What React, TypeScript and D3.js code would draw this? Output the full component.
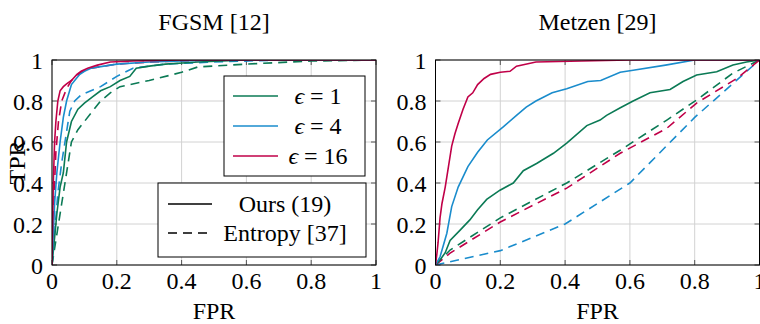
import * as d3 from 'd3'

type Pt = [number, number]

// FGSM [12] panel: [FPR, TPR]
const fgsmOursEps1: Pt[] = [[0, 0], [0.006, 0.1], [0.015, 0.25], [0.025, 0.38], [0.035, 0.45], [0.045, 0.6], [0.06, 0.7], [0.08, 0.76], [0.1, 0.79], [0.125, 0.82], [0.15, 0.85], [0.18, 0.87], [0.21, 0.9], [0.24, 0.92], [0.26, 0.96], [0.3, 0.97], [0.35, 0.98], [0.45, 0.99], [0.6, 1], [1, 1]]
const fgsmOursEps4: Pt[] = [[0, 0], [0.004, 0.15], [0.008, 0.3], [0.015, 0.45], [0.025, 0.6], [0.035, 0.72], [0.045, 0.8], [0.06, 0.88], [0.075, 0.91], [0.086, 0.93], [0.1, 0.945], [0.12, 0.96], [0.16, 0.97], [0.2, 0.98], [0.3, 0.99], [0.5, 1], [1, 1]]
const fgsmOursEps16: Pt[] = [[0, 0], [0.002, 0.2], [0.004, 0.4], [0.006, 0.5], [0.008, 0.6], [0.012, 0.7], [0.018, 0.8], [0.025, 0.85], [0.035, 0.87], [0.046, 0.885], [0.06, 0.9], [0.077, 0.93], [0.09, 0.945], [0.11, 0.96], [0.14, 0.975], [0.18, 0.99], [0.25, 0.995], [0.4, 1], [1, 1]]
const fgsmEntropyEps1: Pt[] = [[0, 0], [0.01, 0.1], [0.02, 0.2], [0.03, 0.3], [0.04, 0.4], [0.05, 0.5], [0.06, 0.6], [0.08, 0.66], [0.1, 0.7], [0.125, 0.75], [0.15, 0.8], [0.18, 0.84], [0.21, 0.87], [0.3, 0.9], [0.4, 0.94], [0.45, 0.966], [0.6, 0.98], [0.8, 0.995], [1, 1]]
const fgsmEntropyEps4: Pt[] = [[0, 0], [0.008, 0.15], [0.018, 0.35], [0.03, 0.5], [0.04, 0.6], [0.055, 0.75], [0.07, 0.8], [0.09, 0.83], [0.12, 0.85], [0.15, 0.87], [0.2, 0.92], [0.25, 0.96], [0.35, 0.98], [0.5, 0.99], [0.7, 1], [1, 1]]
const fgsmEntropyEps16: Pt[] = [[0, 0], [0.004, 0.2], [0.008, 0.4], [0.012, 0.55], [0.02, 0.7], [0.03, 0.8], [0.045, 0.86], [0.06, 0.9], [0.09, 0.94], [0.12, 0.96], [0.2, 0.98], [0.3, 0.99], [0.5, 1], [1, 1]]

// Metzen [29] panel
const metzenOursEps1: Pt[] = [[0, 0], [0.014, 0.025], [0.03, 0.06], [0.045, 0.12], [0.076, 0.17], [0.106, 0.22], [0.13, 0.27], [0.158, 0.32], [0.199, 0.365], [0.24, 0.4], [0.271, 0.46], [0.312, 0.495], [0.364, 0.545], [0.405, 0.595], [0.467, 0.68], [0.508, 0.707], [0.528, 0.73], [0.569, 0.766], [0.61, 0.8], [0.662, 0.84], [0.724, 0.856], [0.764, 0.895], [0.806, 0.927], [0.868, 0.943], [0.918, 0.976], [0.96, 0.99], [1, 1]]
const metzenOursEps4: Pt[] = [[0, 0], [0.014, 0.04], [0.025, 0.1], [0.035, 0.155], [0.05, 0.285], [0.07, 0.38], [0.1, 0.48], [0.13, 0.55], [0.16, 0.61], [0.21, 0.675], [0.25, 0.73], [0.28, 0.77], [0.31, 0.8], [0.36, 0.84], [0.405, 0.86], [0.47, 0.895], [0.51, 0.9], [0.57, 0.94], [0.61, 0.95], [0.71, 0.975], [0.8, 1], [1, 1]]
const metzenOursEps16: Pt[] = [[0, 0], [0.004, 0.05], [0.008, 0.11], [0.014, 0.23], [0.02, 0.3], [0.03, 0.38], [0.04, 0.48], [0.05, 0.58], [0.06, 0.64], [0.07, 0.69], [0.085, 0.76], [0.1, 0.82], [0.115, 0.84], [0.13, 0.88], [0.15, 0.91], [0.17, 0.93], [0.2, 0.94], [0.23, 0.945], [0.25, 0.97], [0.31, 0.99], [0.45, 0.995], [0.6, 1], [1, 1]]
const metzenEntropyEps1: Pt[] = [[0, 0], [0.045, 0.073], [0.2, 0.23], [0.405, 0.4], [0.57, 0.56], [0.714, 0.707], [0.806, 0.805], [0.918, 0.936], [1, 1]]
const metzenEntropyEps4: Pt[] = [[0, 0], [0.2, 0.07], [0.4, 0.2], [0.6, 0.4], [0.8, 0.72], [1, 1]]
const metzenEntropyEps16: Pt[] = [[0, 0], [0.045, 0.058], [0.2, 0.21], [0.405, 0.375], [0.57, 0.545], [0.714, 0.667], [0.806, 0.79], [0.93, 0.91], [1, 1]]

const tickValues = [0, 0.2, 0.4, 0.6, 0.8, 1]
const tickLabels = ['0', '0.2', '0.4', '0.6', '0.8', '1']
const epsLabels = ['1', '4', '16']
const methodLabels = ['Ours (19)', 'Entropy [37]']

const colors = ['#0b7a55', '#1a8ccc', '#c00048']
const txt = { fontFamily: 'Liberation Serif', fontSize: 24 }

const Panel = ({ id, left, title, ours, entropy, yLabel }) => {
  const top = 60
  const w = 324
  const h = 205
  const x = d3.scaleLinear().domain([0, 1]).range([left, left + w])
  const y = d3.scaleLinear().domain([0, 1]).range([top + h, top])
  const line = d3.line<Pt>().x((d) => x(d[0])).y((d) => y(d[1]))

  return (
    <g>
      <defs>
        <clipPath id={id}>
          <rect x={left} y={top} width={w} height={h} />
        </clipPath>
      </defs>
      {tickValues.map((t) => (
        <g key={t}>
          <line x1={x(t)} x2={x(t)} y1={top} y2={top + h} stroke="#d2d2d2" strokeWidth={1} />
          <line x1={left} x2={left + w} y1={y(t)} y2={y(t)} stroke="#d2d2d2" strokeWidth={1} />
          <line x1={x(t)} x2={x(t)} y1={top + h} y2={top + h - 5} stroke="#555" />
          <line x1={x(t)} x2={x(t)} y1={top} y2={top + 5} stroke="#555" />
          <line x1={left} x2={left + 5} y1={y(t)} y2={y(t)} stroke="#555" />
          <line x1={left + w} x2={left + w - 5} y1={y(t)} y2={y(t)} stroke="#555" />
        </g>
      ))}
      <g clipPath={`url(#${id})`}>
        {entropy.map((s, i) => (
          <path key={'e' + i} d={line(s)} fill="none" stroke={colors[i]} strokeWidth={1.6} strokeDasharray="9 6" />
        ))}
        {ours.map((s, i) => (
          <path key={'o' + i} d={line(s)} fill="none" stroke={colors[i]} strokeWidth={1.6} />
        ))}
      </g>
      <rect x={left} y={top} width={w} height={h} fill="none" stroke="#000" strokeWidth={1} />
      {tickValues.map((t, i) => (
        <g key={'l' + t}>
          <text x={x(t)} y={289} textAnchor="middle" style={txt}>{tickLabels[i]}</text>
          <text x={left - 9} y={y(t) + 9} textAnchor="end" style={txt}>{tickLabels[i]}</text>
        </g>
      ))}
      <text x={left + w / 2} y={30} textAnchor="middle" style={txt}>{title}</text>
      <text x={left + w / 2} y={319} textAnchor="middle" style={txt}>FPR</text>
      {yLabel && (
        <text transform={`translate(25, ${top + h / 2}) rotate(-90)`} textAnchor="middle" style={txt}>TPR</text>
      )}
    </g>
  )
}

const Legends = () => (
  <g>
    <rect x={224} y={76} width={141} height={100} fill="#fff" stroke="#000" />
    {epsLabels.map((e, i) => (
      <g key={e}>
        <line x1={233} x2={278} y1={96 + i * 30} y2={96 + i * 30} stroke={colors[i]} strokeWidth={1.6} />
        <text x={318} y={104 + i * 30} textAnchor="middle" style={txt}>
          <tspan fontStyle="italic">ϵ</tspan>{' = '}{e}
        </text>
      </g>
    ))}
    <rect x={158} y={183} width={208} height={74} fill="#fff" stroke="#000" />
    {methodLabels.map((m, i) => (
      <g key={m}>
        <line x1={168} x2={212} y1={204 + i * 29} y2={204 + i * 29} stroke="#000" strokeWidth={1.6} strokeDasharray={i === 1 ? '9 6' : undefined} />
        <text x={285} y={212 + i * 29} textAnchor="middle" style={txt}>{m}</text>
      </g>
    ))}
  </g>
)

export default function App() {
  return (
    <div style={{ position: 'absolute', left: 0, top: 0 }}>
      <svg width={760} height={324} style={{ display: 'block', background: '#fff' }}>
        <Panel
          id="clipA"
          left={52}
          title="FGSM [12]"
          ours={[fgsmOursEps1, fgsmOursEps4, fgsmOursEps16]}
          entropy={[fgsmEntropyEps1, fgsmEntropyEps4, fgsmEntropyEps16]}
          yLabel
        />
        <Panel
          id="clipB"
          left={435.5}
          title="Metzen [29]"
          ours={[metzenOursEps1, metzenOursEps4, metzenOursEps16]}
          entropy={[metzenEntropyEps1, metzenEntropyEps4, metzenEntropyEps16]}
          yLabel={false}
        />
        <Legends />
      </svg>
    </div>
  )
}
